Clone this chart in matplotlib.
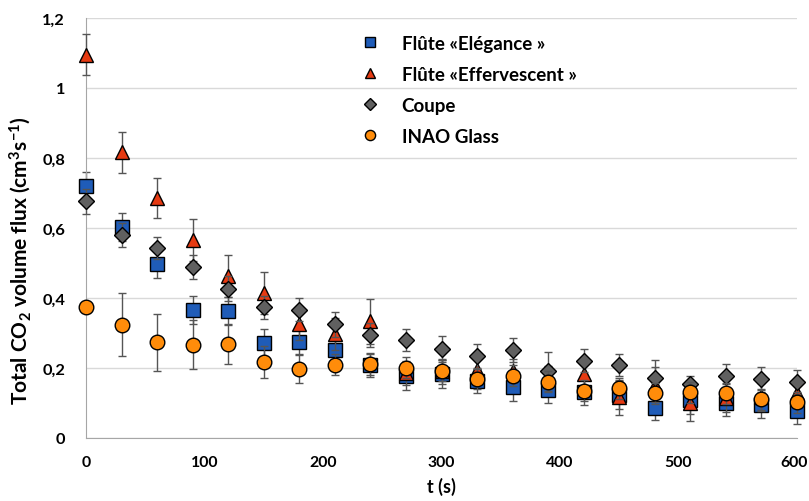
import matplotlib
import matplotlib.pyplot as plt
import matplotlib.transforms as mtransforms
from matplotlib.ticker import FuncFormatter

matplotlib.use("Agg")

plt.rcParams["font.family"] = ["Lato", "DejaVu Sans"]
plt.rcParams["font.weight"] = "bold"
plt.rcParams["mathtext.fontset"] = "custom"
plt.rcParams["mathtext.rm"] = "Lato:bold"
plt.rcParams["mathtext.it"] = "Lato:bold"
plt.rcParams["mathtext.bf"] = "Lato:bold"

# time points (s)
t = [0, 30, 60, 90, 120, 150, 180, 210, 240, 270, 300,
     330, 360, 390, 420, 450, 480, 510, 540, 570, 600]

# Flûte «Elégance »
elegance = [0.719, 0.602, 0.497, 0.366, 0.364, 0.270, 0.275, 0.252, 0.208, 0.177, 0.183,
            0.163, 0.146, 0.137, 0.131, 0.122, 0.087, 0.108, 0.101, 0.093, 0.076]
elegance_err = [0.04, 0.04, 0.04, 0.04, 0.04, 0.04, 0.035, 0.03, 0.035, 0.04, 0.04,
                0.035, 0.04, 0.038, 0.036, 0.04, 0.035, 0.04, 0.037, 0.037, 0.037]

# Flûte «Effervescent »
effervescent = [1.095, 0.816, 0.686, 0.566, 0.464, 0.415, 0.326, 0.297, 0.333, 0.185, 0.19,
                0.195, 0.192, 0.17, 0.183, 0.117, 0.152, 0.099, 0.113, 0.118, 0.128]
effervescent_err = [0.058, 0.058, 0.058, 0.06, 0.06, 0.06, 0.045, 0.045, 0.064, 0.035, 0.035,
                    0.035, 0.035, 0.035, 0.04, 0.05, 0.05, 0.05, 0.04, 0.04, 0.04]

# Coupe
coupe = [0.676, 0.580, 0.542, 0.488, 0.427, 0.373, 0.367, 0.325, 0.294, 0.280, 0.254,
         0.233, 0.251, 0.192, 0.221, 0.209, 0.170, 0.154, 0.176, 0.169, 0.159]
coupe_err = [0.035, 0.035, 0.031, 0.035, 0.035, 0.033, 0.032, 0.036, 0.035, 0.031, 0.036,
             0.035, 0.034, 0.053, 0.033, 0.032, 0.054, 0.024, 0.034, 0.033, 0.034]

# INAO Glass
inao = [0.373, 0.323, 0.273, 0.266, 0.268, 0.216, 0.197, 0.209, 0.211, 0.200, 0.192,
        0.169, 0.178, 0.161, 0.135, 0.142, 0.128, 0.130, 0.128, 0.110, 0.102]
inao_err = [0.0, 0.09, 0.082, 0.07, 0.057, 0.046, 0.04, 0.03, 0.03, 0.03, 0.03,
            0.03, 0.03, 0.03, 0.03, 0.03, 0.03, 0.03, 0.03, 0.03, 0.03]

fig = plt.figure(figsize=(8.09, 5.02), dpi=100)
ax = fig.add_axes([0.1063, 0.1255, 0.8789, 0.8367])

series = [
    (elegance, elegance_err, "s", "#1F5CB8", 9.5, "Flûte «Elégance »"),
    (effervescent, effervescent_err, "^", "#E63A12", 10.5, "Flûte «Effervescent »"),
    (coupe, coupe_err, "D", "#606060", 8.5, "Coupe"),
    (inao, inao_err, "o", "#FF8C0A", 10.5, "INAO Glass"),
]

for i, (y, err, m, c, ms, lab) in enumerate(series):
    ax.errorbar(t, y, yerr=err, fmt="none", ecolor="#555555", elinewidth=1,
                capsize=3, capthick=1, zorder=2 + i * 2, clip_on=False)
    ax.plot(t, y, linestyle="none", marker=m, color=c, markersize=ms,
            markeredgecolor="black", markeredgewidth=1, label=lab,
            zorder=3 + i * 2, clip_on=False)

ax.set_xlim(0, 600)
ax.set_ylim(0, 1.2)
ax.set_xticks([0, 100, 200, 300, 400, 500, 600])
ax.set_yticks([0, 0.2, 0.4, 0.6, 0.8, 1.0, 1.2])
ax.yaxis.set_major_formatter(FuncFormatter(lambda v, p: ("%g" % round(v, 1)).replace(".", ",")))
ax.tick_params(length=0, labelsize=11.8, pad=12)
ax.tick_params(axis="x", labelsize=11.4)
ax.tick_params(axis="y", pad=15)
ax.grid(axis="y", color="#d9d9d9", linewidth=1)
ax.set_axisbelow(True)
for s in ["top", "right"]:
    ax.spines[s].set_visible(False)
for s in ["left", "bottom"]:
    ax.spines[s].set_color("#a6a6a6")

# nudge the last x tick label so it stays inside the figure
last = ax.get_xticklabels()[-1]
last.set_transform(last.get_transform() +
                   mtransforms.ScaledTranslation(-3 / 100, 0, fig.dpi_scale_trans))

ax.set_xlabel("t (s)", fontsize=13, fontweight="bold", labelpad=6)
ax.set_ylabel("Total CO$_2$ volume flux (cm$^3$s$^{-1}$)", fontsize=15,
              fontweight="bold")
ax.yaxis.set_label_coords(-0.075, 0.424)

ax.legend(loc="upper left", bbox_to_anchor=(0.349, 1.0), frameon=False,
          fontsize=13.5, markerscale=0.7, handletextpad=0.7, labelspacing=0.75)

fig.savefig("out.png", dpi=100)
